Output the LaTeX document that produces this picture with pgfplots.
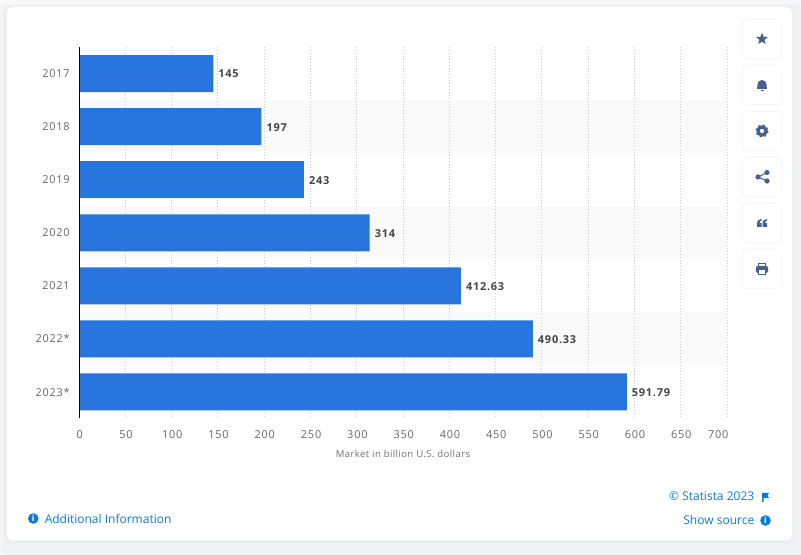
\documentclass[border=0pt]{standalone}
\usepackage{pgfplots}
\pgfplotsset{compat=1.18}
\usepackage{fontspec}
\setmainfont{Open Sans}
\usetikzlibrary{shapes.geometric}
\definecolor{pagebg}{HTML}{F1F2F6}
\definecolor{barblue}{HTML}{2875DE}
\definecolor{band}{HTML}{FAFAFA}
\definecolor{iconblue}{HTML}{46618A}
\definecolor{linkblue}{HTML}{0A7CD8}
\definecolor{ticktext}{HTML}{666666}
\definecolor{labeltext}{HTML}{444444}

\begin{document}
\begin{tikzpicture}
% page and card, in image pixels
\begin{scope}[x=0.75pt,y=-0.75pt,yshift=416.25pt]
  \useasboundingbox (0,0) rectangle (801,555);
  \fill[pagebg] (0,0) rectangle (801,555);
  \fill[white,opacity=0.5] (0,0) rectangle (801,4);
  \fill[white,opacity=0.3] (0,0) rectangle (3,555);
  \fill[black,opacity=0.008,rounded corners=5pt] (3,5) rectangle (797,546);
  \fill[black,opacity=0.01,rounded corners=4pt] (5,6) rectangle (794,543);
  \fill[white,rounded corners=4pt] (7,7) rectangle (792,540.5);
  % alternating rows
  \foreach \t in {100,206.2,312.3}
    \fill[band] (79,\t) rectangle (727,\t+53.07);
  % side buttons
  \foreach \c in {39,85,131,177,223,269} {
    \fill[black,opacity=0.012,rounded corners=4pt] (741,\c-21) rectangle (783,\c+21);
    \fill[black,opacity=0.015,rounded corners=4pt] (742,\c-20) rectangle (782,\c+20);
    \fill[white,rounded corners=3pt] (743,\c-19) rectangle (781,\c+19);
  }
  \node[star,star points=5,star point ratio=2.4,fill=iconblue,inner sep=0pt,minimum size=9.5pt] at (762,39) {};
  % bell
  \fill[iconblue] (757,89) .. controls (758,87) and (757.5,86) .. (757.5,84.5) arc[start angle=180,end angle=360,radius=4.5] .. controls (766.5,86) and (766,87) .. (767,89) -- cycle;
  \fill[iconblue] (760.5,90) rectangle (763.5,91);
  % gear
  \draw[iconblue,line width=2.4pt] (762,131) circle[radius=4];
  \draw[iconblue,line width=1.6pt,dash pattern=on 1.6pt off 1.7pt] (762,131) circle[radius=5.6];
  % share
  \draw[iconblue,line width=0.8pt] (767,172.5) -- (758,177) -- (767,181);
  \fill[iconblue] (767,172.5) circle[radius=2.6] (758,177) circle[radius=2.6] (767,181) circle[radius=2.6];
  % quote
  \fill[iconblue] (757,223) rectangle (761.5,227) (757,223) .. controls (757,220.5) and (758.5,219.5) .. (761.5,219) -- (761.5,220.5) .. controls (760,221) and (759.5,222) .. (759.5,223) -- cycle;
  \fill[iconblue] (762.5,223) rectangle (767,227) (762.5,223) .. controls (762.5,220.5) and (764,219.5) .. (767,219) -- (767,220.5) .. controls (765.5,221) and (765,222) .. (765,223) -- cycle;
  % printer
  \fill[iconblue,rounded corners=1pt] (756,266) rectangle (768,273);
  \draw[iconblue,line width=0.9pt] (758.5,266) -- (758.5,263.5) -- (765.5,263.5) -- (765.5,266);
  \fill[white] (758.5,269.5) rectangle (765.5,274);
  \draw[iconblue,line width=0.9pt] (758.5,269.5) rectangle (765.5,274.5);
  % footer links
  \fill[linkblue] (33.3,518.5) circle[radius=5.3];
  \node[white,font=\fontsize{6.5}{7}\selectfont\bfseries,inner sep=0pt] at (33.3,518.5) {i};
  \node[anchor=west,inner sep=0pt,text=linkblue,font=\fontsize{9}{11}\selectfont] at (44.5,518.5) {Additional Information};
  \node[anchor=east,inner sep=0pt,text=linkblue,font=\fontsize{9}{11}\selectfont] at (754.5,496.5) {© Statista 2023};
  \fill[linkblue] (762,493) -- (769,493) -- (767.5,495.5) -- (769,498) -- (763.5,498) -- (763.5,502) -- (762,502) -- cycle;
  \node[anchor=east,inner sep=0pt,text=linkblue,font=\fontsize{9}{11}\selectfont] at (754.5,520.5) {Show source};
  \fill[linkblue] (765.5,520.5) circle[radius=5.3];
  \node[white,font=\fontsize{6.5}{7}\selectfont\bfseries,inner sep=0pt] at (765.5,520.5) {i};
\end{scope}

\begin{axis}[
    at={(59.3pt,102.375pt)},
    anchor=south west,
    scale only axis,
    width=485.9pt,
    height=278.6pt,
    xbar,
    bar width=27.75pt,
    bar shift=0pt,
    xmin=0, xmax=700,
    ymin=-0.5, ymax=6.5,
    y dir=reverse,
    axis x line*=bottom,
    axis y line*=left,
    axis line style={draw=none,-},
    tick style={draw=none},
    xtick={0,50,...,650},
    extra x ticks={700},
    extra x tick style={
        grid=major,
        xticklabel style={xshift=-7pt},
    },
    extra x tick labels={700},
    ytick={0,1,2,3,4,5,6},
    yticklabels={2017,2018,2019,2020,2021,2022*,2023*},
    xmajorgrids,
    grid style={draw=black!20,line width=0.6pt,dash pattern=on 0.75pt off 1.5pt},
    /pgf/number format/assume math mode=true,
    /pgf/number format/1000 sep={},
    ticklabel style={text=ticktext,font=\fontsize{8.2}{10}\selectfont\addfontfeature{LetterSpace=7}},
    xticklabel style={yshift=-5.7pt,xshift=0.5pt},
    yticklabel style={xshift=0.8pt},
    xlabel={Market in billion U.S. dollars},
    xlabel style={text=black!55,font=\fontsize{7.2}{9}\selectfont\addfontfeature{LetterSpace=4},yshift=-1.5pt},
    point meta=explicit symbolic,
    nodes near coords,
    nodes near coords style={text=labeltext,font=\fontsize{8.2}{10}\selectfont\bfseries\addfontfeature{LetterSpace=7},anchor=west,xshift=0.3pt,yshift=-0.4pt},
    clip=false,
]
\addplot[fill=barblue,draw=none] coordinates {
    (145,0)[145]
    (197,1)[197]
    (243,2)[243]
    (314,3)[314]
    (412.63,4)[412.63]
    (490.33,5)[490.33]
    (591.79,6)[591.79]
};
\draw[black,line width=0.75pt] (axis cs:0,-0.5) -- (axis cs:0,6.5);
\end{axis}
\end{tikzpicture}
\end{document}
